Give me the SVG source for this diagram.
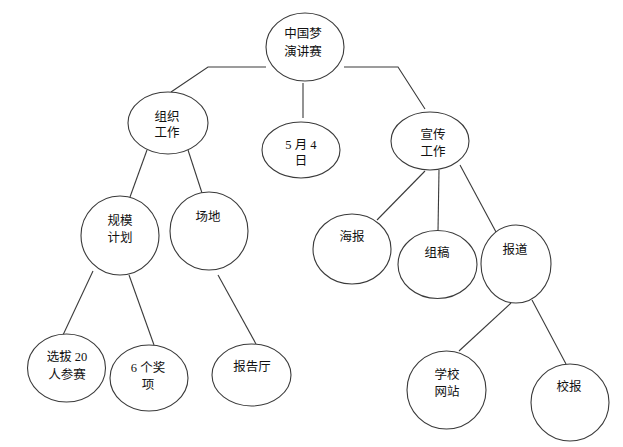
<svg xmlns="http://www.w3.org/2000/svg" width="623" height="447" viewBox="0 0 623 447">
<style>
.n ellipse{fill:#fff;stroke:#3a3a3a;stroke-width:1.1}
.n text{font-family:"Liberation Serif","Noto Sans CJK SC",sans-serif;font-size:12.5px;fill:#111;text-anchor:middle;dominant-baseline:central}
#edges path{fill:none;stroke:#3a3a3a;stroke-width:1.1}
</style>
<rect width="623" height="447" fill="#fff"/>
<g id="edges">
<path d="M266,67 L208,67 L171,92"/>
<path d="M303,83 L303,118"/>
<path d="M344,67 L398,67 L425,109"/>
<path d="M147,150 L130,197"/>
<path d="M188,150 L202,193"/>
<path d="M93,271 L63,335"/>
<path d="M129,275 L154,345"/>
<path d="M218,275 L256,344"/>
<path d="M425,171 L377,220"/>
<path d="M439,170 L438,231"/>
<path d="M460,165 L496,232"/>
<path d="M511,303 L459,351"/>
<path d="M532,300 L566,364"/>
</g>
<g id="root" class="n"><ellipse cx="305" cy="47" rx="39" ry="34"/><text x="303" y="34">中国梦</text><text x="303" y="52">演讲赛</text></g>
<g id="zuzhi" class="n"><ellipse cx="168" cy="123" rx="40" ry="31"/><text x="167" y="117">组织</text><text x="167" y="133">工作</text></g>
<g id="date" class="n"><ellipse cx="301" cy="150" rx="39" ry="28"/><text x="301" y="145">5 月 4</text><text x="301" y="161">日</text></g>
<g id="xuanchuan" class="n"><ellipse cx="430" cy="141" rx="39" ry="29"/><text x="433" y="135">宣传</text><text x="433" y="152">工作</text></g>
<g id="guimo" class="n"><ellipse cx="120" cy="235.5" rx="39" ry="39.5"/><text x="120" y="221">规模</text><text x="120" y="238">计划</text></g>
<g id="changdi" class="n"><ellipse cx="209" cy="231" rx="39" ry="39"/><text x="208" y="217">场地</text></g>
<g id="xuanba" class="n"><ellipse cx="66.5" cy="368" rx="39" ry="34"/><text x="67" y="357">选拔 20</text><text x="67" y="375">人参赛</text></g>
<g id="jiangxiang" class="n"><ellipse cx="149" cy="378" rx="39" ry="33"/><text x="148" y="368">6 个奖</text><text x="148" y="385">项</text></g>
<g id="baogaoting" class="n"><ellipse cx="251.5" cy="375" rx="39.5" ry="31"/><text x="252" y="367">报告厅</text></g>
<g id="haibao" class="n"><ellipse cx="352" cy="249" rx="39" ry="35"/><text x="352" y="237">海报</text></g>
<g id="zugao" class="n"><ellipse cx="437.5" cy="264.5" rx="39.5" ry="34"/><text x="437" y="253">组稿</text></g>
<g id="baodao" class="n"><ellipse cx="516" cy="264" rx="35" ry="39"/><text x="515" y="250">报道</text></g>
<g id="xuexiao" class="n"><ellipse cx="446.5" cy="390" rx="39.5" ry="39"/><text x="447" y="375">学校</text><text x="447" y="392">网站</text></g>
<g id="xiaobao" class="n"><ellipse cx="570" cy="402.5" rx="39" ry="38.5"/><text x="569" y="387">校报</text></g>
</svg>
